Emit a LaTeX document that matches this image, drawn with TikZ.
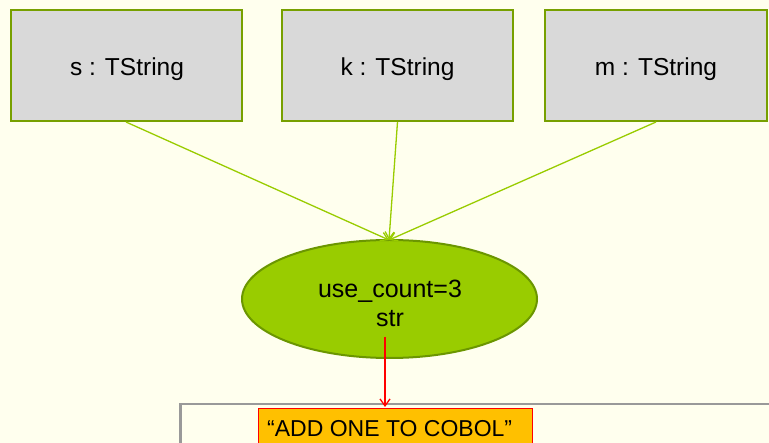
\documentclass[tikz,border=0pt]{standalone}
\usepackage{fontspec}
\setmainfont{Liberation Sans}
\usetikzlibrary{shapes.geometric,arrows.meta}
\definecolor{bg}{HTML}{FFFFEE}
\definecolor{boxfill}{HTML}{D9D9D9}
\definecolor{boxline}{HTML}{77A000}
\definecolor{ellfill}{HTML}{99CC00}
\definecolor{ellline}{HTML}{6B9600}
\definecolor{conn}{HTML}{99CC00}
\definecolor{orange}{HTML}{FFC000}
\tikzset{
  objbox/.style={draw=boxline, line width=2pt, fill=boxfill, minimum width=231pt, minimum height=111pt, inner sep=0pt},
  objtext/.style={font=\fontsize{24.5}{28}\selectfont, inner sep=0pt},
  green conn/.style={draw=conn, line width=1.3pt, -{Straight Barb[length=7pt,width=9pt]}},
}
\begin{document}
\begin{tikzpicture}[x=1pt,y=-1pt]
\clip (0,0) rectangle (769,443);
\fill[bg] (0,0) rectangle (769,443);
\useasboundingbox (0,0) rectangle (769,443);
\node[objbox] (s) at (126,65.5) {};
\node[objbox] (k) at (397.5,65.5) {};
\node[objbox, minimum width=222pt] (m) at (656,65.5) {};
\node[objtext] (st) at (127,69) {s : TString};
\node[objtext] (kt) at (397.5,69) {k : TString};
\node[objtext] (mt) at (656,69) {m : TString};
\node[ellipse, draw=ellline, line width=2pt, fill=ellfill, minimum width=295pt, minimum height=118pt, inner sep=0pt] (rc) at (389.5,299) {};
\node[align=center, font=\fontsize{25}{29}\selectfont, inner sep=0pt] (rct) at (390,303) {use\_count=3\\str};
\coordinate (tip) at (389,240);
\draw[green conn] (s.south) -- (tip);
\draw[green conn] (k.south) -- (tip);
\draw[green conn] (m.south) -- (tip);
\node[draw=black!40, line width=2.5pt, fill=bg, minimum width=620pt, minimum height=80pt, anchor=north west, inner sep=0pt] (buf) at (179,403) {};
\node[draw=red, line width=1pt, fill=orange, minimum width=274pt, minimum height=50pt, anchor=north west, inner sep=0pt] (strbox) at (258,408) {};
\node[anchor=west, font=\fontsize{23}{26}\selectfont, inner sep=0pt] (txt) at (267,429) {“ADD ONE TO COBOL”};
\coordinate (rs) at (385,337);
\coordinate (re) at (385,407);
\draw[red, line width=1.3pt, -{Straight Barb[length=7pt,width=10pt]}] (rs) -- (re);
\end{tikzpicture}
\end{document}
